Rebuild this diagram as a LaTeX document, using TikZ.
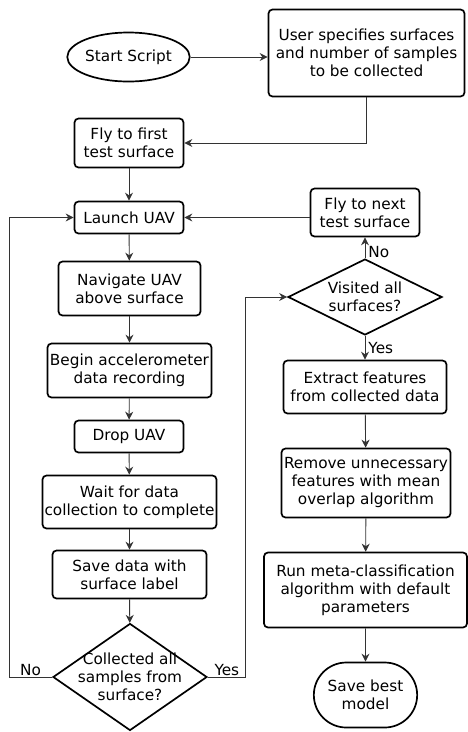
\documentclass[tikz,border=0pt]{standalone}
\usepackage{fontspec}
\setmainfont{DejaVu Sans}
\usetikzlibrary{shapes,arrows.meta,positioning}

\begin{document}
\begin{tikzpicture}[
    x=1pt, y=-1pt,
    every node/.style={font=\fontsize{15.3}{18}\selectfont},
    stepbox/.style={rectangle, rounded corners=4pt, draw, line width=1.7pt, align=center, inner xsep=1pt, inner ysep=0pt},
    startstop/.style={ellipse, draw, line width=1.7pt, inner sep=0pt, align=center},
    decision/.style={diamond, draw, line width=1.7pt, inner sep=0pt},
    arrow/.style={-{Stealth[length=8pt,width=8pt]}, line width=0.9pt, draw=black!80}
]
    \useasboundingbox (0,0) rectangle (468,732);

    % left column
    \node[startstop, minimum width=108pt, minimum height=49pt] (start) at (128.5,57) {Start Script};
    \node[stepbox, minimum width=196pt, minimum height=87pt] (user) at (366.5,53) {User specifies surfaces\\and number of samples\\to be collected};
    \node[stepbox, minimum width=109pt, minimum height=49pt] (fly1) at (129,143) {Fly to first\\test surface};
    \node[stepbox, minimum width=109pt, minimum height=32pt] (launch) at (129,217.5) {Launch UAV};
    \node[stepbox, minimum width=142pt, minimum height=54pt] (navigate) at (129.5,288.5) {Navigate UAV\\above surface};
    \node[stepbox, minimum width=164pt, minimum height=54pt] (record) at (129.5,370.5) {Begin accelerometer\\data recording};
    \node[stepbox, minimum width=109pt, minimum height=32pt] (drop) at (129,436.5) {Drop UAV};
    \node[stepbox, minimum width=174pt, minimum height=53pt] (wait) at (129.5,502) {Wait for data\\collection to complete};
    \node[stepbox, minimum width=154pt, minimum height=48pt] (save) at (129.5,574.5) {Save data with\\surface label};
    \node[decision, minimum width=154pt, minimum height=107pt,
          label={[align=center]center:Collected all\\samples from\\surface?}] (collected) at (130,677) {};

    % right column
    \node[stepbox, minimum width=109pt, minimum height=48pt] (flynext) at (365,212.5) {Fly to next\\test surface};
    \node[decision, minimum width=154pt, minimum height=76pt,
          label={[align=center]center:Visited all\\surfaces?}] (visited) at (365,297) {};
    \node[stepbox, minimum width=163pt, minimum height=53pt] (extract) at (365,387) {Extract features\\from collected data};
    \node[stepbox, minimum width=169pt, minimum height=69pt] (remove) at (366,483) {Remove unnecessary\\features with mean\\overlap algorithm};
    \node[stepbox, minimum width=203pt, minimum height=75pt] (classify) at (365.5,590) {Run meta-classification\\algorithm with default\\parameters};
    \node[rounded rectangle, draw, line width=1.7pt, minimum width=110pt, minimum height=65pt, align=center] (best) at (365.5,695) {Save best\\model};

    \draw[arrow] (start.east) -- (start.east -| user.west);
    \draw[arrow] (user.south) |- (fly1.east);
    \draw[arrow] (fly1) -- (launch);
    \draw[arrow] (launch) -- (navigate);
    \draw[arrow] (navigate) -- (record);
    \draw[arrow] (record) -- (drop);
    \draw[arrow] (drop) -- (wait);
    \draw[arrow] (wait) -- (save);
    \draw[arrow] (save) -- (collected);
    \draw[arrow] (collected.west) -- node[above, inner sep=1pt] {No} ++(-43,0) |- (launch.west);
    \draw[arrow] (collected.east) -- node[above, inner sep=1pt] {Yes} ++(38,0) |- (visited.west);
    \draw[arrow] (visited) -- node[right, pos=0.3, inner sep=3pt] {No} (flynext);
    \draw[arrow] (launch.east -| flynext.west) -- (launch.east);
    \draw[arrow] (visited) -- node[right, inner sep=3pt] {Yes} (extract);
    \draw[arrow] (extract) -- (remove);
    \draw[arrow] (remove) -- (classify);
    \draw[arrow] (classify) -- (best);
\end{tikzpicture}
\end{document}
